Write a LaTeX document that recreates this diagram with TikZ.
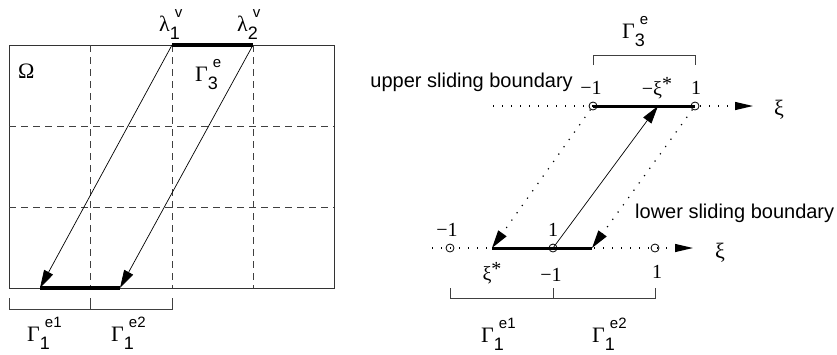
\documentclass[tikz,border=0pt]{standalone}
\usepackage{fontspec}
\setmainfont{Liberation Sans}
\newfontfamily\grk{Liberation Serif}
\usetikzlibrary{arrows.meta,positioning}
\newcommand{\glab}[3]{{\grk\fontsize{22}{24}\selectfont #1}\rlap{\raisebox{-8pt}{\fontsize{18}{18}\selectfont #3}}\hspace{5pt}\raisebox{14pt}{\fontsize{15}{15}\selectfont #2}}

\begin{document}
\begin{tikzpicture}[x=1pt,y=-1pt,font=\fontsize{20}{24}\selectfont,
    grid/.style={dash pattern=on 7pt off 5pt,line width=0.8pt,black!75},
    edge/.style={line width=4pt},
    dotl/.style={dash pattern=on 1.2pt off 7.8pt,line width=1.2pt},
    pt/.style={circle,draw,line width=0.8pt,inner sep=0pt,minimum size=8pt},
    brk/.style={line width=0.8pt,black!75},
    arr/.style={-{Triangle[length=18pt,width=10pt]},line width=0.7pt},
    axarr/.style={-{Triangle[length=18pt,width=8pt]}},
    num/.style={font=\fontsize{20}{22}\selectfont\grk,inner sep=0pt}]
\useasboundingbox (0,0) rectangle (837,354);

% left: domain with elements
\draw[line width=0.8pt,black!80] (9,45) rectangle (334,288);
\foreach \x in {90,172,253} \draw[grid] (\x,45) -- (\x,288);
\foreach \y in {126,207} \draw[grid] (9,\y) -- (334,\y);
\coordinate (lam1) at (172,45);
\coordinate (lam2) at (253,45);
\coordinate (bot1) at (40,288);
\coordinate (bot2) at (120,288);
\draw[edge] (lam1) -- (lam2);
\draw[edge] (bot1) -- (bot2);
\draw[arr] (lam1) -- (bot1);
\draw[arr] (lam2) -- (bot2);
\node[anchor=base west,inner sep=0pt] (omega) at (18,78) {\grk\fontsize{22}{24}\selectfont Ω};
\node[anchor=base west,inner sep=0pt] (lv1) at (159,31) {\glab{λ}{v}{1}};
\node[anchor=base west,inner sep=0pt] (lv2) at (237,31) {\glab{λ}{v}{2}};
\node[anchor=base west,inner sep=0pt] (g3l) at (195,81) {\glab{Γ}{e}{3}};
\draw[brk] (9,298) -- (9,309) -- (172,309) -- (172,298);
\draw[brk] (90,309) -- (90,298);
\node[anchor=base west,inner sep=0pt] (g1l) at (27,341) {\glab{Γ}{e1}{1}};
\node[anchor=base west,inner sep=0pt] (g2l) at (111,341) {\glab{Γ}{e2}{1}};

% right: reference element and sliding boundaries
\coordinate (ustart) at (493,106);
\coordinate (uend) at (753,106);
\coordinate (uxi) at (658,106);
\node[pt] (um1) at (593,106) {};
\node[pt] (up1) at (695,106) {};
\coordinate (lstart) at (432,248);
\coordinate (lend) at (693,248);
\coordinate (lxs) at (492,248);
\coordinate (lq) at (592,248);
\node[pt] (lm1) at (450,248) {};
\node[pt] (lc) at (553,248) {};
\node[pt] (lp1) at (655,248) {};
\draw[dotl,axarr] (ustart) -- (uend);
\draw[dotl,axarr] (lstart) -- (lend);
\draw[line width=3pt] (um1.center) -- (up1.center);
\draw[line width=3pt] (lxs) -- (lq);
\draw[arr] (lc.center) -- (uxi);
\draw[arr,dotl] (um1) -- (lxs);
\draw[arr,dotl] (up1) -- (lq);

\node[font=\fontsize{22}{24}\selectfont\grk] (uxil) at (779,110) {ξ};
\node[font=\fontsize{22}{24}\selectfont\grk] (lxil) at (720,253) {ξ};
\node[num] (tm1) at (591,88) {−1};
\node[num] (txs) at (657,88) {−ξ\raisebox{5pt}{*}};
\node[num] (tp1) at (696,88) {1};
\node[num] (bm1) at (447,230) {−1};
\node[num] (bc1) at (553,230) {1};
\node[num] (bxs) at (492,273) {ξ\raisebox{5pt}{*}};
\node[num] (bcm) at (551,275) {−1};
\node[num] (bp1) at (657,272) {1};
\node[anchor=base east,inner sep=0pt] (upper) at (573,87) {upper sliding boundary};
\node[anchor=base west,inner sep=0pt] (lower) at (635,218) {lower sliding boundary};

\draw[brk] (um1 |- 0,65) -- (um1 |- 0,55) -- (up1 |- 0,55) -- (up1 |- 0,65);
\node[anchor=base west,inner sep=0pt] (g3r) at (622,38) {\glab{Γ}{e}{3}};
\draw[brk] (lm1 |- 0,288) -- (lm1 |- 0,298) -- (lp1 |- 0,298) -- (lp1 |- 0,288);
\draw[brk] (lc |- 0,288) -- (lc |- 0,298);
\node[anchor=base west,inner sep=0pt] (g1r) at (481,342) {\glab{Γ}{e1}{1}};
\node[anchor=base west,inner sep=0pt] (g2r) at (592,342) {\glab{Γ}{e2}{1}};
\end{tikzpicture}
\end{document}
